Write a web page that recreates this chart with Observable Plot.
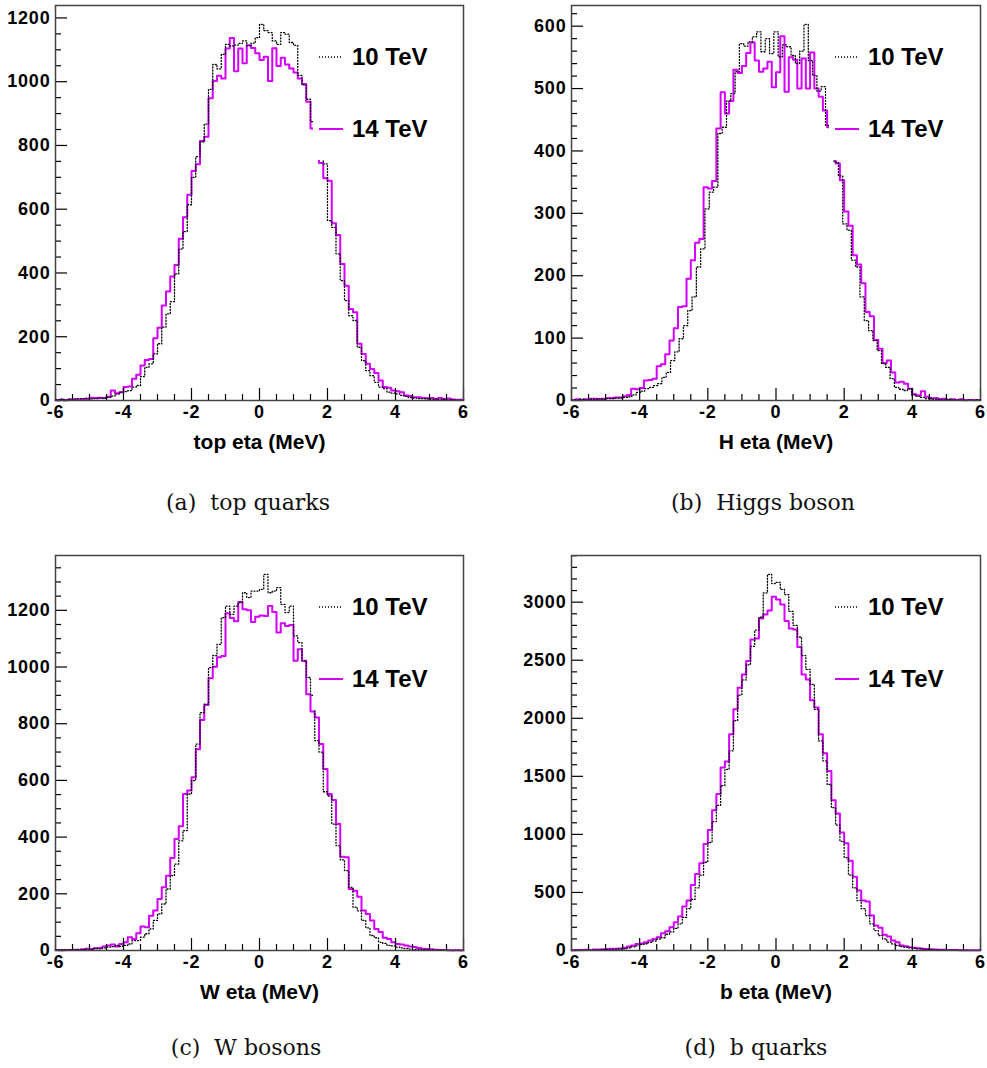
<!DOCTYPE html>
<html><head><meta charset="utf-8">
<script src="https://cdn.jsdelivr.net/npm/d3@7"></script>
<script src="https://cdn.jsdelivr.net/npm/@observablehq/plot@0.6"></script>
<style>
body{margin:0;background:#fff;}
#page{position:relative;width:987px;height:1068px;overflow:hidden;background:#fff;}
.panel{position:absolute;}
.panel svg{display:block;background:transparent;}
.panel svg g[aria-label$="tick label"], .panel svg g[aria-label$="tick label"] text{font-size:18px !important;font-weight:bold;letter-spacing:0.8px;}
.legend{position:absolute;background:#fff;font:bold 24px "Liberation Sans",Arial,sans-serif;color:#000;}
.legend .row{position:absolute;left:0;width:149px;height:30px;}
.legend .row svg{position:absolute;left:0;top:0;}
.legend .row span{position:absolute;left:39px;top:0;line-height:30px;}
.caption{position:absolute;width:400px;text-align:center;font:22px "DejaVu Serif",serif;line-height:26px;color:#111;white-space:pre;}
</style></head><body><div id="page"></div>
<script>
// ---- data: 96 bins from -6 to 6 (eta) ----
const xMin = -6, xMax = 6;
const xTickLabels = [-6, -4, -2, 0, 2, 4, 6];
const seriesNames = ["10 TeV", "14 TeV"];
const axisTitles = ["top eta (MeV)", "H eta (MeV)", "W eta (MeV)", "b eta (MeV)"];
const captions = ["(a)  top quarks", "(b)  Higgs boson", "(c)  W bosons", "(d)  b quarks"];
const yMajorSteps = [200, 100, 200, 500];
const yMinorSteps = [50, 20, 50, 100];

const topQuark10 = [3,4,2,4,5,6,6,7,5,6,8,7,10,
14,20,26,28,31,42,47,75,104,115,146,178,230,272,310,397,475,530,614,
700,765,811,867,976,1054,1040,1086,1117,1112,1115,1120,1128,1113,1121,1138,1180,1160,1154,1128,1117,1154,1149,1123,1114,1020,990,945,875,
820,760,
742,564,543,460,376,313,266,251,167,125,94,78,57,42,37,26,23,21,16,13,9,8,6,6,5,4,5,3,4,2,3,1,1];
const topQuark14 = [1,2,1,3,3,3,4,3,9,8,9,8,12,
31,23,26,42,44,68,81,110,127,130,195,228,298,342,389,425,507,575,645,
720,741,814,827,948,1002,1019,1010,1104,1137,1033,1104,1058,1114,1106,1089,1068,1078,1002,1105,1049,1075,1054,1041,1029,1010,993,937,853,
800,
745,697,689,556,519,428,360,287,277,178,146,115,99,86,63,42,40,31,29,26,16,14,10,10,8,
7,8,5,8,4,6,3,2,2];

const higgs10 = [1,1,2,1,2,2,3,2,3,3,4,4,5,6,9,
13,15,19,21,24,27,37,45,64,78,99,120,144,166,214,243,307,334,342,428,438,480,492,527,
572,568,575,583,591,559,580,556,591,551,570,567,553,540,560,603,545,521,496,503,441,
415,
382,360,283,273,225,214,166,128,112,96,80,59,53,35,21,18,16,19,9,7,5,3,4,2,2,1,2,1,1,1,0,1,0,1];
const higgs14 = [1,2,1,2,3,3,2,3,4,4,5,5,7,9,
19,18,20,32,33,35,55,58,74,96,116,150,151,195,225,253,259,
342,340,352,436,494,460,480,530,525,536,557,574,545,527,532,543,502,526,584,495,550,546,500,548,500,558,500,487,465,438,
410,
380,353,303,280,233,218,188,142,135,97,83,60,64,45,29,30,27,19,10,8,15,6,3,4,2,3,1,2,1,2,1,1,1,1];

const wBoson10 = [2,3,2,3,2,4,3,5,4,7,6,9,12,
14,18,15,18,23,35,35,47,59,76,106,129,164,217,264,305,387,423,552,599,728,
839,869,998,1040,1080,1174,1215,1186,1215,1227,1262,1245,1268,1268,1274,1327,1262,1268,1280,1221,1192,1215,1110,1086,1021,
963,900,740,700,560,545,446,370,320,282,223,153,140,106,80,53,45,29,25,18,16,12,9,7,5,4,4,3,2,2,1,2,1,1,0,1,0];
const wBoson14 = [2,1,2,2,3,2,4,6,5,8,9,14,18,
21,14,23,29,47,41,61,85,82,123,141,182,223,264,326,393,438,552,564,611,710,
813,866,960,1001,1034,1039,1190,1173,1161,1229,1204,1200,1159,1177,1182,1180,1215,1194,1122,1154,1145,1148,1022,1063,1022,
904,843,822,728,640,552,531,446,331,329,217,211,190,141,129,106,76,65,45,41,29,23,21,18,14,12,9,6,5,4,3,2,2,1,1,1,1];

const bQuark10 = [2,3,3,4,4,5,6,7,8,10,11,13,
15,22,32,40,52,58,70,82,98,110,140,160,190,230,285,360,440,540,650,760,930,1110,1250,1420,1560,1720,
1980,2200,2330,2460,2620,2760,2870,3080,3240,3160,3170,3110,3065,2920,2800,2700,2540,2421,2292,2077,1805,1633,1430,
1230,1080,940,800,650,540,430,360,300,230,172,129,100,72,57,43,34,29,23,20,14,11,9,7,6,5,4,3,3,2,2,2,1,1,1];
const bQuark14 = [3,4,5,6,5,8,9,11,12,14,16,18,
23,34,43,57,60,72,86,100,115,149,166,201,244,292,378,430,564,659,751,917,1037,1209,1347,1576,1628,1862,
2077,2264,2378,2493,2679,2688,2860,2894,2928,3046,3023,2980,2837,2774,2765,2613,2378,2335,2155,2092,1862,1699,1547,
1295,1181,1017,923,774,636,516,430,421,301,215,195,135,120,86,72,43,37,29,23,20,14,12,10,8,7,6,5,5,4,3,3,2,2,2];

const series10 = [topQuark10, higgs10, wBoson10, bQuark10];
const series14 = [topQuark14, higgs14, wBoson14, bQuark14];

// ---- layout ----
const page = document.getElementById("page");
const panelPos = [
  {left: 0, top: 0, width: 493, mr: 30, capX: 248, capY: 503},
  {left: 516, top: 0, width: 471, mr: 7, capX: 763, capY: 503},
  {left: 0, top: 550, width: 493, mr: 30, capX: 246, capY: 1048},
  {left: 516, top: 550, width: 471, mr: 7, capX: 756, capY: 1048}
];
const ML = 55, MT = 5, MB = 65, H = 465;
const COLOR14 = "#d400ff";
const FONT = "'Liberation Sans', Arial, sans-serif";

function steps(arr) {
  const n = arr.length, bw = (xMax - xMin) / n;
  const pts = arr.map((v, k) => ({x: xMin + k * bw, y: v}));
  pts.push({x: xMax, y: arr[n - 1]});
  return pts;
}

for (let i = 0; i < 4; i++) {
  const p = panelPos[i];
  const s10 = series10[i], s14 = series14[i];
  const yTop = 1.05 * Math.max(...s10, ...s14);
  const major = yMajorSteps[i], minor = yMinorSteps[i];
  const yMajor = d3.range(0, yTop, major);
  const yMinor = d3.range(0, yTop, minor).filter(v => v % major !== 0);
  const xMinor = d3.range(xMin, xMax + 0.001, 0.5).filter(v => !xTickLabels.includes(v));
  const plotW = p.width - ML - p.mr, plotH = H - MT - MB;

  const chart = Plot.plot({
    width: p.width, height: H,
    marginLeft: ML, marginRight: p.mr, marginTop: MT, marginBottom: MB,
    style: {fontFamily: FONT, fontWeight: "bold", color: "#000", background: "transparent"},
    x: {domain: [xMin, xMax]},
    y: {domain: [0, yTop]},
    marks: [
      Plot.line(steps(s14), {x: "x", y: "y", curve: "step-after", stroke: COLOR14, strokeWidth: 2}),
      Plot.line(steps(s10), {x: "x", y: "y", curve: "step-after", stroke: "#000", strokeWidth: 1.3, strokeDasharray: "1,2"}),
      Plot.tickX(xTickLabels, {x: d => d, insetTop: plotH - 12, stroke: "#000", strokeWidth: 1.2}),
      Plot.tickX(xMinor, {x: d => d, insetTop: plotH - 6, stroke: "#000", strokeWidth: 1.2}),
      Plot.tickY(yMajor, {y: d => d, insetRight: plotW - 12, stroke: "#000", strokeWidth: 1.2}),
      Plot.tickY(yMinor, {y: d => d, insetRight: plotW - 6, stroke: "#000", strokeWidth: 1.2}),
      Plot.frame({stroke: "#444", strokeWidth: 1.5}),
      Plot.axisX(xTickLabels, {tickSize: 0, tickPadding: 5, tickFormat: d => String(d), label: null, fontSize: 18, fontWeight: "bold", fontFamily: FONT, fill: "#000"}),
      Plot.axisY(yMajor, {tickSize: 0, tickPadding: 5, tickFormat: d => String(d), label: null, fontSize: 18, fontWeight: "bold", fontFamily: FONT, fill: "#000"}),
      Plot.text([axisTitles[i]], {text: d => d, frameAnchor: "bottom", dy: 48, fontSize: 21, fontWeight: "bold", fontFamily: FONT, fill: "#000"})
    ]
  });
  const wrap = document.createElement("div");
  wrap.className = "panel";
  wrap.style.left = p.left + "px";
  wrap.style.top = p.top + "px";
  wrap.appendChild(chart);
  page.appendChild(wrap);

  // legend (white box over the plot area)
  const lg = document.createElement("div");
  lg.className = "legend";
  lg.style.left = (p.left + ML + 258) + "px";
  lg.style.top = (p.top + MT + 15) + "px";
  lg.style.width = "149px";
  lg.style.height = "140px";
  const rowsTop = [22, 94];
  seriesNames.forEach((name, j) => {
    const row = document.createElement("div");
    row.className = "row";
    row.style.top = rowsTop[j] + "px";
    const dash = j === 0 ? 'stroke="#000" stroke-width="1.3" stroke-dasharray="1,2"' : `stroke="${COLOR14}" stroke-width="2"`;
    row.innerHTML = `<svg width="36" height="30"><line x1="6" x2="30" y1="15" y2="15" ${dash}/></svg><span>${name}</span>`;
    lg.appendChild(row);
  });
  page.appendChild(lg);

  const cap = document.createElement("div");
  cap.className = "caption";
  cap.textContent = captions[i];
  cap.style.left = (p.capX - 200) + "px";
  cap.style.top = (p.capY - 13) + "px";
  page.appendChild(cap);
}
</script></body></html>
